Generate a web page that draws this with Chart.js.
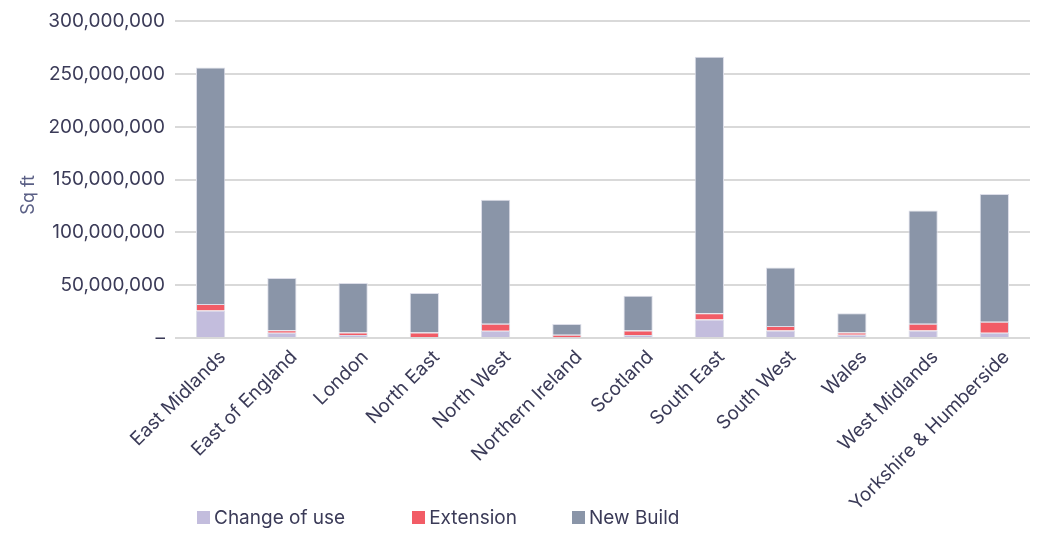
<!DOCTYPE html>
<html>
<head>
<meta charset="utf-8">
<script src="https://cdn.jsdelivr.net/npm/chart.js@4.4.1/dist/chart.umd.min.js"></script>
<style>
  html, body { margin: 0; padding: 0; background: #fff; }
  #wrap { position: relative; width: 1039px; height: 533px; }
  #legend { position: absolute; left: 197px; top: 506px; display: flex; font-family: Inter, sans-serif; font-size: 19px; color: #3b3b58; }
  #legend .item { display: flex; align-items: center; }
  #legend .box { width: 13px; height: 13px; margin-right: 4px; }
</style>
</head>
<body>
<div id="wrap">
  <canvas id="c" width="1039" height="533"></canvas>
  <div id="legend"></div>
</div>
<script>
const categories = ['East Midlands','East of England','London','North East','North West','Northern Ireland','Scotland','South East','South West','Wales','West Midlands','Yorkshire & Humberside'];
const changeOfUse = [26000000, 5000000, 2800000, 1000000, 6800000, 800000, 2800000, 17600000, 7100000, 3100000, 7100000, 4900000];
const extension = [6200000, 2400000, 2500000, 4300000, 6800000, 2300000, 4300000, 5900000, 4300000, 2200000, 6500000, 10600000];
const newBuild = [224000000, 49500000, 46700000, 37400000, 117400000, 10200000, 32900000, 243000000, 55500000, 18200000, 107100000, 121000000];
const yTicks = [0, 50000000, 100000000, 150000000, 200000000, 250000000, 300000000];

const seriesNames = ['Change of use', 'Extension', 'New Build'];
const seriesColors = ['#c3bddd', '#f25c66', '#8a95a8'];
const seriesData = [changeOfUse, extension, newBuild];

const textColor = '#3b3b58';
const fontFamily = 'Inter, sans-serif';
const labelShift = [12, -2];

const shiftLabels = {
  id: 'shiftLabels',
  afterLayout(chart) {
    const s = chart.scales.x;
    const items = s.getLabelItems(chart.chartArea);
    items.forEach(it => {
      it.options.translation = [it.options.translation[0] + labelShift[0], it.options.translation[1] + labelShift[1]];
    });
  }
};

const chart = new Chart(document.getElementById('c'), {
  type: 'bar',
  data: {
    labels: categories,
    datasets: seriesNames.map((n, i) => ({
      label: n,
      data: seriesData[i],
      backgroundColor: seriesColors[i],
      borderColor: '#dcdde8',
      borderWidth: 1,
      barPercentage: 0.41,
      categoryPercentage: 1
    }))
  },
  plugins: [shiftLabels],
  options: {
    responsive: false,
    animation: false,
    layout: { padding: { left: 10, right: 9, top: 1, bottom: 0 } },
    plugins: { legend: { display: false }, tooltip: { enabled: false } },
    scales: {
      x: {
        stacked: true,
        afterFit: (s) => { s.height = 195; },
        grid: { display: false },
        border: { display: false },
        ticks: {
          color: textColor,
          font: { family: fontFamily, size: 19 },
          maxRotation: 45, minRotation: 45, padding: 2
        }
      },
      y: {
        stacked: true,
        min: 0, max: 300000000,
        afterBuildTicks: (s) => { s.ticks = yTicks.map(v => ({ value: v })); },
        afterFit: (s) => { s.width = 165; },
        border: { display: false },
        grid: { color: '#d9d9d9', lineWidth: 2, drawTicks: false },
        ticks: {
          color: textColor,
          font: { family: fontFamily, size: 19 },
          padding: 10,
          callback: (v) => v === 0 ? '–' : Number(v).toLocaleString('en-GB')
        },
        title: {
          display: true, text: 'Sq ft      ', color: '#5a5f85',
          font: { family: fontFamily, size: 18 }, padding: { top: 8, bottom: 4 }
        }
      }
    }
  }
});

const lg = document.getElementById('legend');
const gaps = [0, 67, 55];
seriesNames.forEach((n, i) => {
  const it = document.createElement('div');
  it.className = 'item';
  it.style.marginLeft = gaps[i] + 'px';
  const b = document.createElement('span');
  b.className = 'box';
  b.style.background = seriesColors[i];
  const t = document.createElement('span');
  t.textContent = n;
  it.appendChild(b); it.appendChild(t);
  lg.appendChild(it);
});
</script>
</body>
</html>
